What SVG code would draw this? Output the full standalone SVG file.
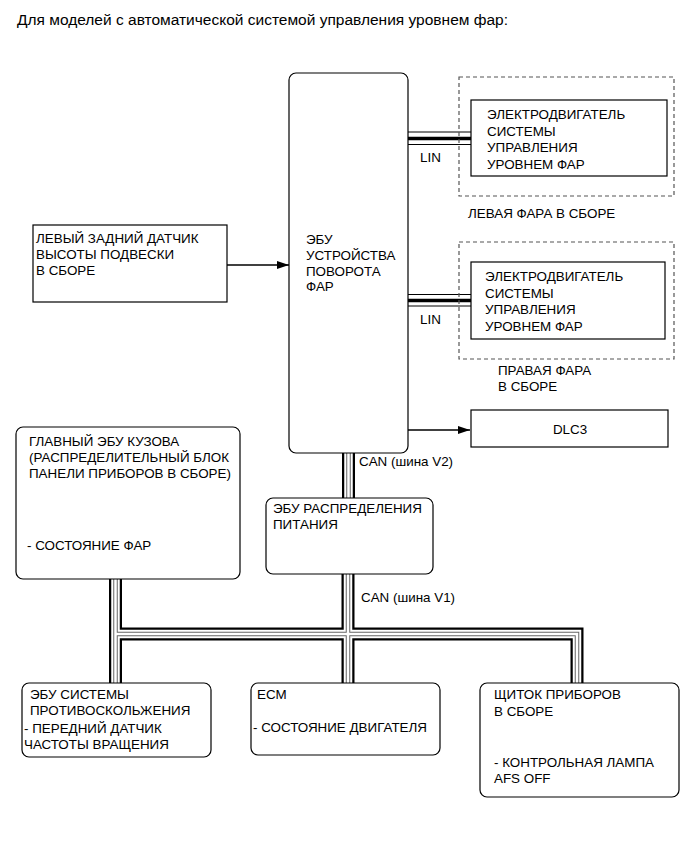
<svg xmlns="http://www.w3.org/2000/svg" width="691" height="855" viewBox="0 0 691 855">
<style>
text{font-family:"Liberation Sans",Arial,sans-serif;font-size:13.4px;fill:#000}
.title{font-size:15.5px}
.box{fill:#fff;stroke:#000;stroke-width:1.2}
.dash{fill:none;stroke:#555;stroke-width:1.2;stroke-dasharray:4,3}
.wire{fill:none;stroke:#000;stroke-width:1.3}
.b1{fill:none;stroke:#000;stroke-width:13}
.b2{fill:none;stroke:#fff;stroke-width:8.5}
.b3{fill:none;stroke:#666;stroke-width:4.5}
.b4{fill:none;stroke:#fff;stroke-width:2.5}
.lt{stroke:#000;stroke-width:1}
.lk{stroke:#000;stroke-width:3.5}
</style>
<defs>
<marker id="arr" markerWidth="12" markerHeight="8" refX="12" refY="4" orient="auto" markerUnits="userSpaceOnUse">
<path d="M0,0 L12,4 L0,8 Z" fill="#000"/>
</marker>
</defs>
<rect width="691" height="855" fill="#fff"/>
<text class="title" x="17" y="25">Для моделей с автоматической системой управления уровнем фар:</text>

<g id="connectors">
<path class="b1" d="M348.5,453 V499 M348,574 V683 M115.5,579 V683 M115.5,634 H577 V683"/>
<path class="b2" d="M348.5,453 V499 M348,574 V683 M115.5,579 V683 M115.5,634 H577 V683"/>
<path class="b3" d="M348.5,453 V499 M348,574 V683 M115.5,579 V683 M115.5,634 H577 V683"/>
<path class="b4" d="M348.5,453 V499 M348,574 V683 M115.5,579 V683 M115.5,634 H577 V683"/>
<line class="lt" x1="408" y1="132" x2="471" y2="132"/>
<line class="lk" x1="408" y1="138.5" x2="471" y2="138.5"/>
<line class="lt" x1="408" y1="144.5" x2="471" y2="144.5"/>
<line class="lt" x1="408" y1="294.5" x2="471" y2="294.5"/>
<line class="lk" x1="408" y1="300.5" x2="471" y2="300.5"/>
<line class="lt" x1="408" y1="306" x2="471" y2="306"/>
<line class="wire" x1="227" y1="265" x2="289" y2="265" marker-end="url(#arr)"/>
<line class="wire" x1="408" y1="430" x2="470" y2="430" marker-end="url(#arr)"/>
<text x="420" y="162">LIN</text>
<text x="420" y="324">LIN</text>
<text x="359" y="466">CAN (шина V2)</text>
<text x="361" y="602">CAN (шина V1)</text>
</g>

<g id="swivel-ecu">
<rect class="box" x="289" y="73" width="119" height="380" rx="7"/>
<text x="306" y="244">ЭБУ</text>
<text x="306" y="260">УСТРОЙСТВА</text>
<text x="306" y="276">ПОВОРОТА</text>
<text x="306" y="291">ФАР</text>
</g>

<g id="left-headlamp">
<rect class="dash" x="459" y="77" width="215" height="119"/>
<text x="468" y="218">ЛЕВАЯ ФАРА В СБОРЕ</text>
</g>
<g id="left-motor">
<rect class="box" x="471" y="100" width="196" height="76"/>
<text x="487" y="119">ЭЛЕКТРОДВИГАТЕЛЬ</text>
<text x="487" y="136">СИСТЕМЫ</text>
<text x="487" y="152">УПРАВЛЕНИЯ</text>
<text x="487" y="169">УРОВНЕМ ФАР</text>
</g>

<g id="right-headlamp">
<rect class="dash" x="459" y="242" width="215" height="117"/>
<text x="498" y="375">ПРАВАЯ ФАРА</text>
<text x="498" y="391">В СБОРЕ</text>
</g>
<g id="right-motor">
<rect class="box" x="471" y="262" width="194" height="77"/>
<text x="485" y="281">ЭЛЕКТРОДВИГАТЕЛЬ</text>
<text x="485" y="298">СИСТЕМЫ</text>
<text x="485" y="314">УПРАВЛЕНИЯ</text>
<text x="485" y="331">УРОВНЕМ ФАР</text>
</g>

<g id="height-sensor">
<rect class="box" x="33" y="225" width="194" height="77"/>
<text x="36" y="243">ЛЕВЫЙ ЗАДНИЙ ДАТЧИК</text>
<text x="36" y="259">ВЫСОТЫ ПОДВЕСКИ</text>
<text x="36" y="275">В СБОРЕ</text>
</g>

<g id="dlc3">
<rect class="box" x="471" y="410" width="197" height="37"/>
<text x="570" y="434" text-anchor="middle">DLC3</text>
</g>

<g id="body-ecu">
<rect class="box" x="16" y="427" width="224" height="152" rx="7"/>
<text x="29" y="446">ГЛАВНЫЙ ЭБУ КУЗОВА</text>
<text x="29" y="462">(РАСПРЕДЕЛИТЕЛЬНЫЙ БЛОК</text>
<text x="29" y="478">ПАНЕЛИ ПРИБОРОВ В СБОРЕ)</text>
<text x="27" y="550">- СОСТОЯНИЕ ФАР</text>
</g>

<g id="power-ecu">
<rect class="box" x="266" y="498" width="167" height="76" rx="7"/>
<text x="273" y="513">ЭБУ РАСПРЕДЕЛЕНИЯ</text>
<text x="273" y="529">ПИТАНИЯ</text>
</g>

<g id="skid-ecu">
<rect class="box" x="22" y="683" width="189" height="74" rx="7"/>
<text x="30" y="699">ЭБУ СИСТЕМЫ</text>
<text x="30" y="715">ПРОТИВОСКОЛЬЖЕНИЯ</text>
<text x="24" y="733">- ПЕРЕДНИЙ ДАТЧИК</text>
<text x="24" y="749">ЧАСТОТЫ ВРАЩЕНИЯ</text>
</g>

<g id="ecm">
<rect class="box" x="251" y="683" width="189" height="72" rx="7"/>
<text x="257" y="699">ECM</text>
<text x="253" y="732">- СОСТОЯНИЕ ДВИГАТЕЛЯ</text>
</g>

<g id="cluster">
<rect class="box" x="480" y="683" width="199" height="114" rx="7"/>
<text x="494" y="699">ЩИТОК ПРИБОРОВ</text>
<text x="494" y="716">В СБОРЕ</text>
<text x="494" y="767">- КОНТРОЛЬНАЯ ЛАМПА</text>
<text x="494" y="783">AFS OFF</text>
</g>
</svg>
